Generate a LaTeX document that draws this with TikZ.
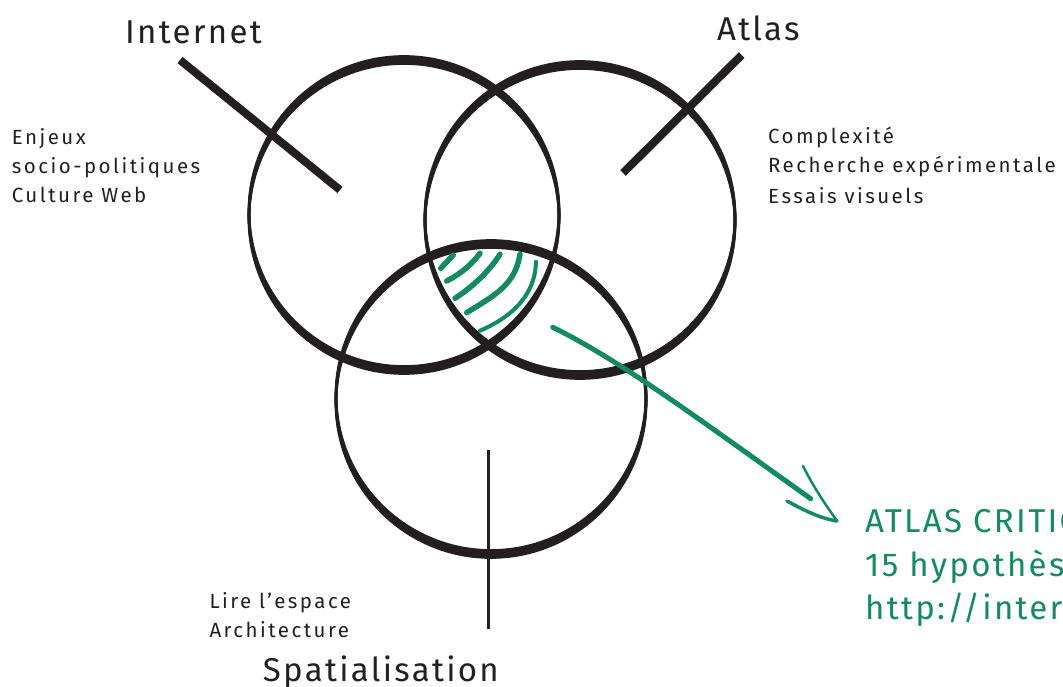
\documentclass[tikz,border=0pt]{standalone}
\usepackage{fontspec}
\setmainfont{Fira Sans}
\newfontfamily\smallfam[LetterSpace=12]{Fira Sans}
\newfontfamily\bigfam[LetterSpace=7]{Fira Sans}
\definecolor{ink}{RGB}{35,31,32}
\definecolor{vert}{RGB}{20,138,98}
\tikzset{
  ring/.style={draw=ink, line width=2.7pt},
  bar/.style={draw=ink, line width=8pt},
  hatch/.style={draw=vert, line width=5.5pt, line cap=round},
  small/.style={inner sep=0pt, anchor=base west, text=ink, font=\smallfam\fontsize{20.5}{24}\selectfont},
  big/.style={inner sep=0pt, anchor=base west, text=ink, font=\bigfam\fontsize{33}{38}\selectfont},
  greentext/.style={inner sep=0pt, anchor=base west, text=vert, font=\bigfam\fontsize{33}{38}\selectfont},
}
\begin{document}
\begin{tikzpicture}[x=1pt,y=-1pt]
\useasboundingbox (0,0) rectangle (1063,687);
\clip (0,0) rectangle (1063,687);
% centres
\coordinate (c1) at (404,215);
\coordinate (c2) at (580,220);
\coordinate (c3) at (491,399);
% calligraphic circles
\foreach \c in {c1,c2,c3}{
  \foreach \d in {-3.5,-1.75,0,1.75,3.5}{
    \draw[ring] ([yshift=-\d pt]\c) circle[radius=155];
  }
}
% bars
\coordinate (i1) at (180,60);
\coordinate (i2) at (340,190);
\draw[bar] (i1) -- (i2);
\coordinate (a1) at (741.7,55);
\coordinate (a2) at (623,173);
\draw[bar] (a1) -- (a2);
\coordinate (s1) at (488.3,450);
\coordinate (s2) at (488.3,629);
\draw[draw=ink, line width=3pt] (s1) -- (s2);
% hatching
\draw[hatch] (440.7,268.3) -- (453.3,255);
\draw[hatch] (446.7,281) .. controls (462,273) and (472,264) .. (480,253.3);
\draw[hatch] (455,298.3) .. controls (475,285) and (490,270) .. (500,254.3);
\draw[hatch] (466.7,312.7) .. controls (495,295) and (515,285) .. (520,254.3);
\draw[hatch, line width=4pt] (480,330.7) .. controls (505,320) and (535,300) .. (536,261.7);
% green arrow
\coordinate (g1) at (552.7,327.3);
\coordinate (g2) at (810.7,498.7);
\coordinate (tip) at (837,521);
\coordinate (h1) at (803,466);
\coordinate (h2) at (787,501);
\draw[draw=vert, line width=5pt, line cap=round] (g1) .. controls (620,360) and (700,420) .. (g2);
\draw[draw=vert, line width=2.5pt, line cap=round] (h1) .. controls (815,490) and (828,508) .. (tip);
\draw[draw=vert, line width=3.5pt, line cap=round] (h2) .. controls (800,508) and (818,518) .. (tip);
% titles
\node[big] (tInternet) at (125,44) {Internet};
\node[big] (tAtlas) at (717,40.7) {Atlas};
\node[big] (tSpatial) at (262.7,681.7) {Spatialisation};
% left text
\node[small] (l1) at (11.7,144.3) {Enjeux};
\node[small] (l2) at (11.7,173.3) {socio-politiques};
\node[small] (l3) at (11.7,202.3) {Culture Web};
% right text
\node[small] (r1) at (768,143.3) {Complexité};
\node[small] (r2) at (768,173) {Recherche expérimentale};
\node[small] (r3) at (768,204) {Essais visuels};
% bottom text
\node[small] (b1) at (209.3,608.3) {Lire l’espace};
\node[small] (b2) at (209.3,637) {Architecture};
% green text
\node[greentext] (g-a) at (865,532) {ATLAS CRITIQUE};
\node[greentext] (g-b) at (865,576) {15 hypothèses};
\node[greentext] (g-c) at (865,619) {http://internet-atlas.net};
\end{tikzpicture}
\end{document}
